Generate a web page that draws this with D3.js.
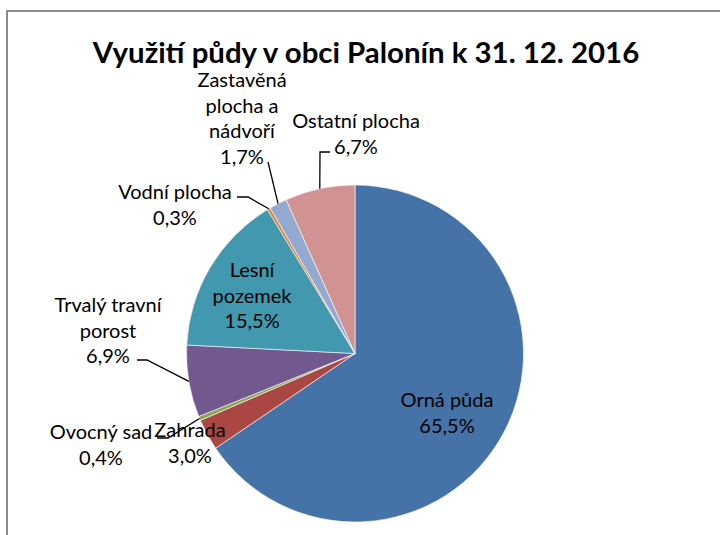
<!DOCTYPE html>
<html lang="cs">
<head>
<meta charset="utf-8">
<title>Využití půdy v obci Palonín</title>
<script src="https://d3js.org/d3.v7.min.js"></script>
<style>
  body { margin: 0; background: #fff; }
  svg text { font-family: Lato, "Open Sans", sans-serif; fill: #000; }
</style>
</head>
<body>
<script>
var categories = ["Orná půda", "Zahrada", "Ovocný sad", "Trvalý travní porost",
                  "Lesní pozemek", "Vodní plocha", "Zastavěná plocha a nádvoří", "Ostatní plocha"];
var values = [65.5, 3.0, 0.4, 6.9, 15.5, 0.3, 1.7, 6.7];
var colors = ["#4572A7", "#AA4643", "#89A54E", "#71588F", "#4198AF", "#DB843D", "#93A9CF", "#D19392"];
var labelLines = [["Orná půda"], ["Zahrada"], ["Ovocný sad"], ["Trvalý travní", "porost"],
                  ["Lesní", "pozemek"], ["Vodní plocha"], ["Zastavěná", "plocha a", "nádvoří"], ["Ostatní plocha"]];

// label layout: centre x, first line y, leader start (x,y) and elbow x (null = no leader)
var layout = [
  {x: 447, y: 400, lx: null},
  {x: 190, y: 430, lx: null},
  {x: 101, y: 432, lx: 157, ly: 438, ex: 168},
  {x: 108, y: 305, lx: 137, ly: 360, ex: 147},
  {x: 252, y: 270, lx: null},
  {x: 175, y: 192, lx: 237, ly: 197, ex: 248},
  {x: 242, y: 80,  lx: 268, ly: 162, ex: 268},
  {x: 356, y: 121, lx: 330, ly: 152, ex: 320}
];

var W = 720, H = 535,
    cx = 355, cy = 353.5, r = 168.5,
    lineH = 25.5;

var svg = d3.select("body").append("svg")
    .attr("width", W).attr("height", H);

// chart frame
svg.append("path")
    .attr("d", "M7,540 L7,11 L725,11")
    .attr("fill", "none")
    .attr("stroke", "#8c8c8c")
    .attr("stroke-width", 2);

svg.append("text")
    .attr("x", 366).attr("y", 63)
    .attr("text-anchor", "middle")
    .style("font-size", "29.4px").style("font-weight", "bold")
    .text("Využití půdy v obci Palonín k 31. 12. 2016");

var pie = d3.pie().sort(null).value(function(d){ return d; });
var arcs = pie(values);
var arc = d3.arc().innerRadius(0).outerRadius(r);

var g = svg.append("g").attr("transform", "translate(" + cx + "," + cy + ")");

g.selectAll("path.slice")
    .data(arcs)
    .enter().append("path")
    .attr("class", "slice")
    .attr("d", arc)
    .attr("fill", function(d, i){ return colors[i]; })
    .attr("stroke", "#fff")
    .attr("stroke-width", 0.6);

// leader lines
arcs.forEach(function(d, i){
  var L = layout[i];
  if (L.lx == null) return;
  var a = (d.startAngle + d.endAngle) / 2;
  var px = cx + r * Math.sin(a), py = cy - r * Math.cos(a);
  svg.append("polyline")
      .attr("points", [[L.lx, L.ly], [L.ex, L.ly], [px, py]].map(function(p){ return p.join(","); }).join(" "))
      .attr("fill", "none")
      .attr("stroke", "#000")
      .attr("stroke-width", 1.3);
});

// labels
arcs.forEach(function(d, i){
  var L = layout[i];
  var lines = labelLines[i].concat([d3.format(".1f")(values[i]).replace(".", ",") + "%"]);
  var t = svg.append("text")
      .attr("text-anchor", "middle")
      .style("font-size", "20px");
  lines.forEach(function(s, k){
    t.append("tspan")
        .attr("x", L.x)
        .attr("y", L.y + k * lineH)
        .attr("dy", "0.35em")
        .text(s);
  });
});
</script>
</body>
</html>
